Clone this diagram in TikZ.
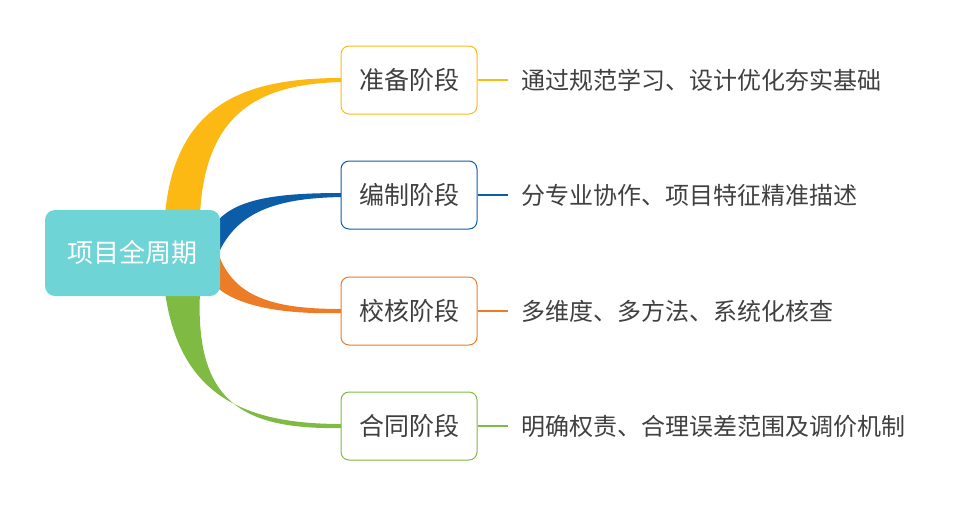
\documentclass[tikz,border=0pt]{standalone}
\usepackage{fontspec}
\setmainfont{Noto Sans CJK SC}
\usetikzlibrary{backgrounds}
\definecolor{cRoot}{HTML}{6FD4D6}
\definecolor{cYel}{HTML}{FDB913}
\definecolor{cBlu}{HTML}{0C5DA8}
\definecolor{cOra}{HTML}{EC7C26}
\definecolor{cGrn}{HTML}{7FBA42}
\definecolor{cTxt}{HTML}{404040}
\tikzset{
  stagebox/.style={draw=#1, fill=white, rounded corners=8pt, line width=1pt,
    minimum width=136pt, minimum height=68pt, text=cTxt,
    font=\fontsize{25}{28}\selectfont},
  desc/.style={anchor=west, text=cTxt, font=\fontsize{24}{28}\selectfont, inner sep=0pt},
  link/.style={draw=#1, line width=2pt}
}
\begin{document}
\begin{tikzpicture}[x=1pt,y=-1pt]
\useasboundingbox (0,0) rectangle (968,507);
\node[fill=cRoot, rounded corners=10pt, minimum width=175pt, minimum height=86pt,
  text=white, font=\fontsize{26}{30}\selectfont] (root) at (132.5,253) {项目全周期};

\node[stagebox=cYel] (prep) at (409,80) {准备阶段};
\node[stagebox=cBlu] (edit) at (409,195) {编制阶段};
\node[stagebox=cOra] (check) at (409,311) {校核阶段};
\node[stagebox=cGrn] (cont) at (409,426) {合同阶段};

\node[desc] (dprep) at (521,80) {通过规范学习、设计优化夯实基础};
\node[desc] (dedit) at (521,195) {分专业协作、项目特征精准描述};
\node[desc] (dcheck) at (521,311) {多维度、多方法、系统化核查};
\node[desc] (dcont) at (521,426) {明确权责、合理误差范围及调价机制};

\draw[link=cYel] (prep.east) -- ++(30,0);
\draw[link=cBlu] (edit.east) -- ++(30,0);
\draw[link=cOra] (check.east) -- ++(30,0);
\draw[link=cGrn] (cont.east) -- ++(30,0);

\begin{pgfonlayer}{background}
% tapered branches
\fill[cYel] (165,215) .. controls (175,100) and (250,78) .. (342,78)
  -- (342,82) .. controls (262,84) and (205,110) .. (200,215) -- cycle;
\fill[cBlu] (212,228) .. controls (230,200) and (270,193) .. (342,193)
  -- (342,197) .. controls (280,198) and (240,210) .. (220,250) -- cycle;
\fill[cOra] (220,258) .. controls (237,300) and (280,309) .. (342,309)
  -- (342,313) .. controls (270,315) and (228,302) .. (212,282) -- cycle;
\fill[cGrn] (165,292) .. controls (180,400) and (250,424) .. (342,424)
  -- (342,428) .. controls (240,430) and (195,400) .. (200,292) -- cycle;
\end{pgfonlayer}
\end{tikzpicture}
\end{document}
